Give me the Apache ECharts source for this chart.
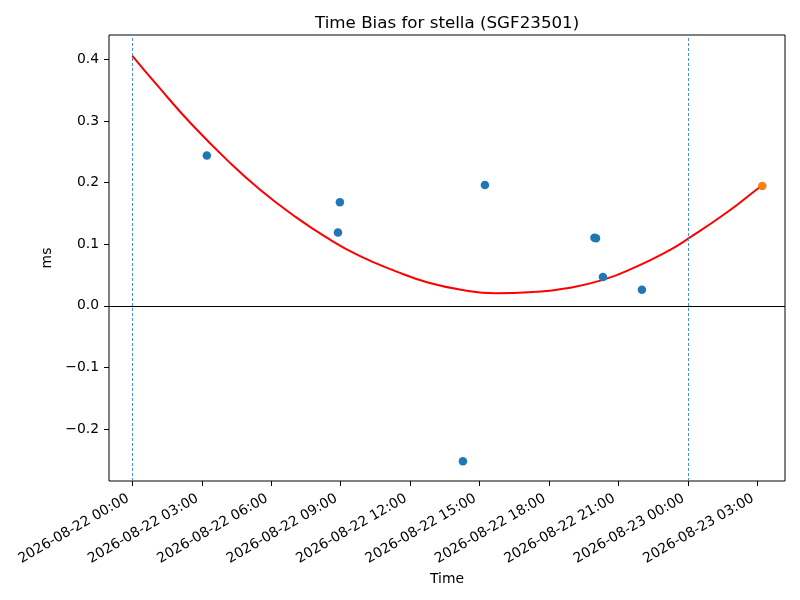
<!DOCTYPE html>
<html>
<head>
<meta charset="utf-8">
<title>Time Bias for stella</title>
<script src="https://cdn.jsdelivr.net/npm/echarts@6/dist/echarts.min.js"></script>
<style>
  html, body { margin: 0; padding: 0; background: #fff; }
  #chart { width: 800px; height: 600px; }
</style>
</head>
<body>
<div id="chart"></div>
<script>
// measured points (blue) and the latest point (orange)
const blueTimes = [
  '2026-08-22 03:13', '2026-08-22 08:58', '2026-08-22 08:53',
  '2026-08-22 14:17', '2026-08-22 15:14', '2026-08-22 19:58',
  '2026-08-22 20:02', '2026-08-22 20:20', '2026-08-22 22:01'
]
const blueValues = [0.244, 0.168, 0.119, -0.252, 0.196, 0.1105, 0.1095, 0.047, 0.026]

const latestTimes = ['2026-08-23 03:13']
const latestValues = [0.1945]

// fitted curve
const fitTimes = [
  '2026-08-22 00:00', '2026-08-22 01:07', '2026-08-22 02:33', '2026-08-22 04:17',
  '2026-08-22 05:30', '2026-08-22 06:56', '2026-08-22 08:23', '2026-08-22 09:49',
  '2026-08-22 11:25', '2026-08-22 12:46', '2026-08-22 14:13', '2026-08-22 15:40',
  '2026-08-22 17:23', '2026-08-22 18:37', '2026-08-22 20:20', '2026-08-22 21:47',
  '2026-08-22 23:13', '2026-08-23 00:00', '2026-08-23 01:40', '2026-08-23 03:02',
  '2026-08-23 03:13'
]
const fitValues = [
  0.4057, 0.356, 0.295, 0.2297,
  0.1891, 0.1475, 0.111, 0.081,
  0.0556, 0.038, 0.0262, 0.0206,
  0.0227, 0.0276, 0.0421, 0.0637,
  0.0905, 0.1086, 0.151, 0.1905,
  0.195
]

// dashed vertical markers (window start / end)
const windowTimes = ['2026-08-22 00:00', '2026-08-23 00:00']

const xTickLabels = [
  '2026-08-22 00:00', '2026-08-22 03:00', '2026-08-22 06:00', '2026-08-22 09:00',
  '2026-08-22 12:00', '2026-08-22 15:00', '2026-08-22 18:00', '2026-08-22 21:00',
  '2026-08-23 00:00', '2026-08-23 03:00'
]
const yTicks = [-0.2, -0.1, 0.0, 0.1, 0.2, 0.3, 0.4]

// 'YYYY-MM-DD HH:mm[:ss]' -> local timestamp
const ts = s => new Date(s.replace(' ', 'T') + (s.length === 16 ? ':00' : '')).getTime()
const pad = n => String(n).padStart(2, '0')
const fmtTime = v => {
  const d = new Date(v)
  return d.getFullYear() + '-' + pad(d.getMonth() + 1) + '-' + pad(d.getDate()) +
    ' ' + pad(d.getHours()) + ':' + pad(d.getMinutes())
}
const zip = (a, b) => a.map((t, i) => [ts(t), b[i]])

const font = 'DejaVu Sans'

const chart = echarts.init(document.getElementById('chart'))

const option = {
  animation: false,
  backgroundColor: '#fff',
  title: {
    text: 'Time Bias for stella (SGF23501)',
    left: 310,
    top: 10,
    textStyle: { fontFamily: font, fontSize: 16.7, fontWeight: 'normal', color: '#000' }
  },
  grid: {
    left: 109,
    right: 15,
    top: 35,
    bottom: 119,
    show: true,
    borderColor: '#000',
    borderWidth: 1,
    outerBoundsMode: 'none'
  },
  xAxis: {
    // timestamps on a plain value axis, labelled as dates
    type: 'value',
    min: ts('2026-08-21 22:59:24'),
    max: ts('2026-08-23 04:12:00'),
    name: 'Time',
    nameLocation: 'middle',
    nameGap: 85,
    nameTextStyle: { fontFamily: font, fontSize: 13.9, color: '#000' },
    axisLine: { show: false, onZero: false },
    axisTick: {
      show: true,
      length: 5,
      lineStyle: { color: '#000', width: 1 },
      customValues: xTickLabels.map(ts)
    },
    axisLabel: {
      rotate: 30,
      margin: 14,
      padding: [0, 5, 0, 0],
      fontFamily: font,
      fontSize: 13.9,
      color: '#000',
      customValues: xTickLabels.map(ts),
      formatter: v => fmtTime(v)
    },
    splitLine: { show: false }
  },
  yAxis: {
    type: 'value',
    min: -0.2841,
    max: 0.4394,
    name: 'ms',
    nameLocation: 'middle',
    nameGap: 43,
    nameRotate: 90,
    nameTextStyle: { fontFamily: font, fontSize: 13.9, color: '#000' },
    axisLine: { show: false },
    axisTick: {
      show: true,
      length: 5,
      lineStyle: { color: '#000', width: 1 },
      customValues: yTicks
    },
    axisLabel: {
      margin: 10,
      fontFamily: font,
      fontSize: 13.9,
      color: '#000',
      customValues: yTicks,
      formatter: v => v.toFixed(1).replace('-', '\u2212')
    },
    splitLine: { show: false }
  },
  series: [
    {
      name: 'fit',
      type: 'line',
      data: zip(fitTimes, fitValues),
      smooth: 0.5,
      showSymbol: false,
      lineStyle: { color: '#ff0000', width: 2 },
      z: 2,
      markLine: {
        silent: true,
        symbol: 'none',
        label: { show: false },
        data: [
          ...windowTimes.map(t => ({
            xAxis: ts(t),
            lineStyle: { color: '#4a92c8', width: 1, type: [3, 2] }
          })),
          { yAxis: 0, lineStyle: { color: '#000', width: 1, type: 'solid' } }
        ]
      }
    },
    {
      name: 'bias',
      type: 'scatter',
      data: zip(blueTimes, blueValues),
      symbolSize: 8.5,
      itemStyle: { color: '#1f77b4', opacity: 1 },
      z: 3
    },
    {
      name: 'latest',
      type: 'scatter',
      data: zip(latestTimes, latestValues),
      symbolSize: 8.5,
      itemStyle: { color: '#ff7f0e', opacity: 1 },
      z: 4
    }
  ]
}

chart.setOption(option)
</script>
</body>
</html>
